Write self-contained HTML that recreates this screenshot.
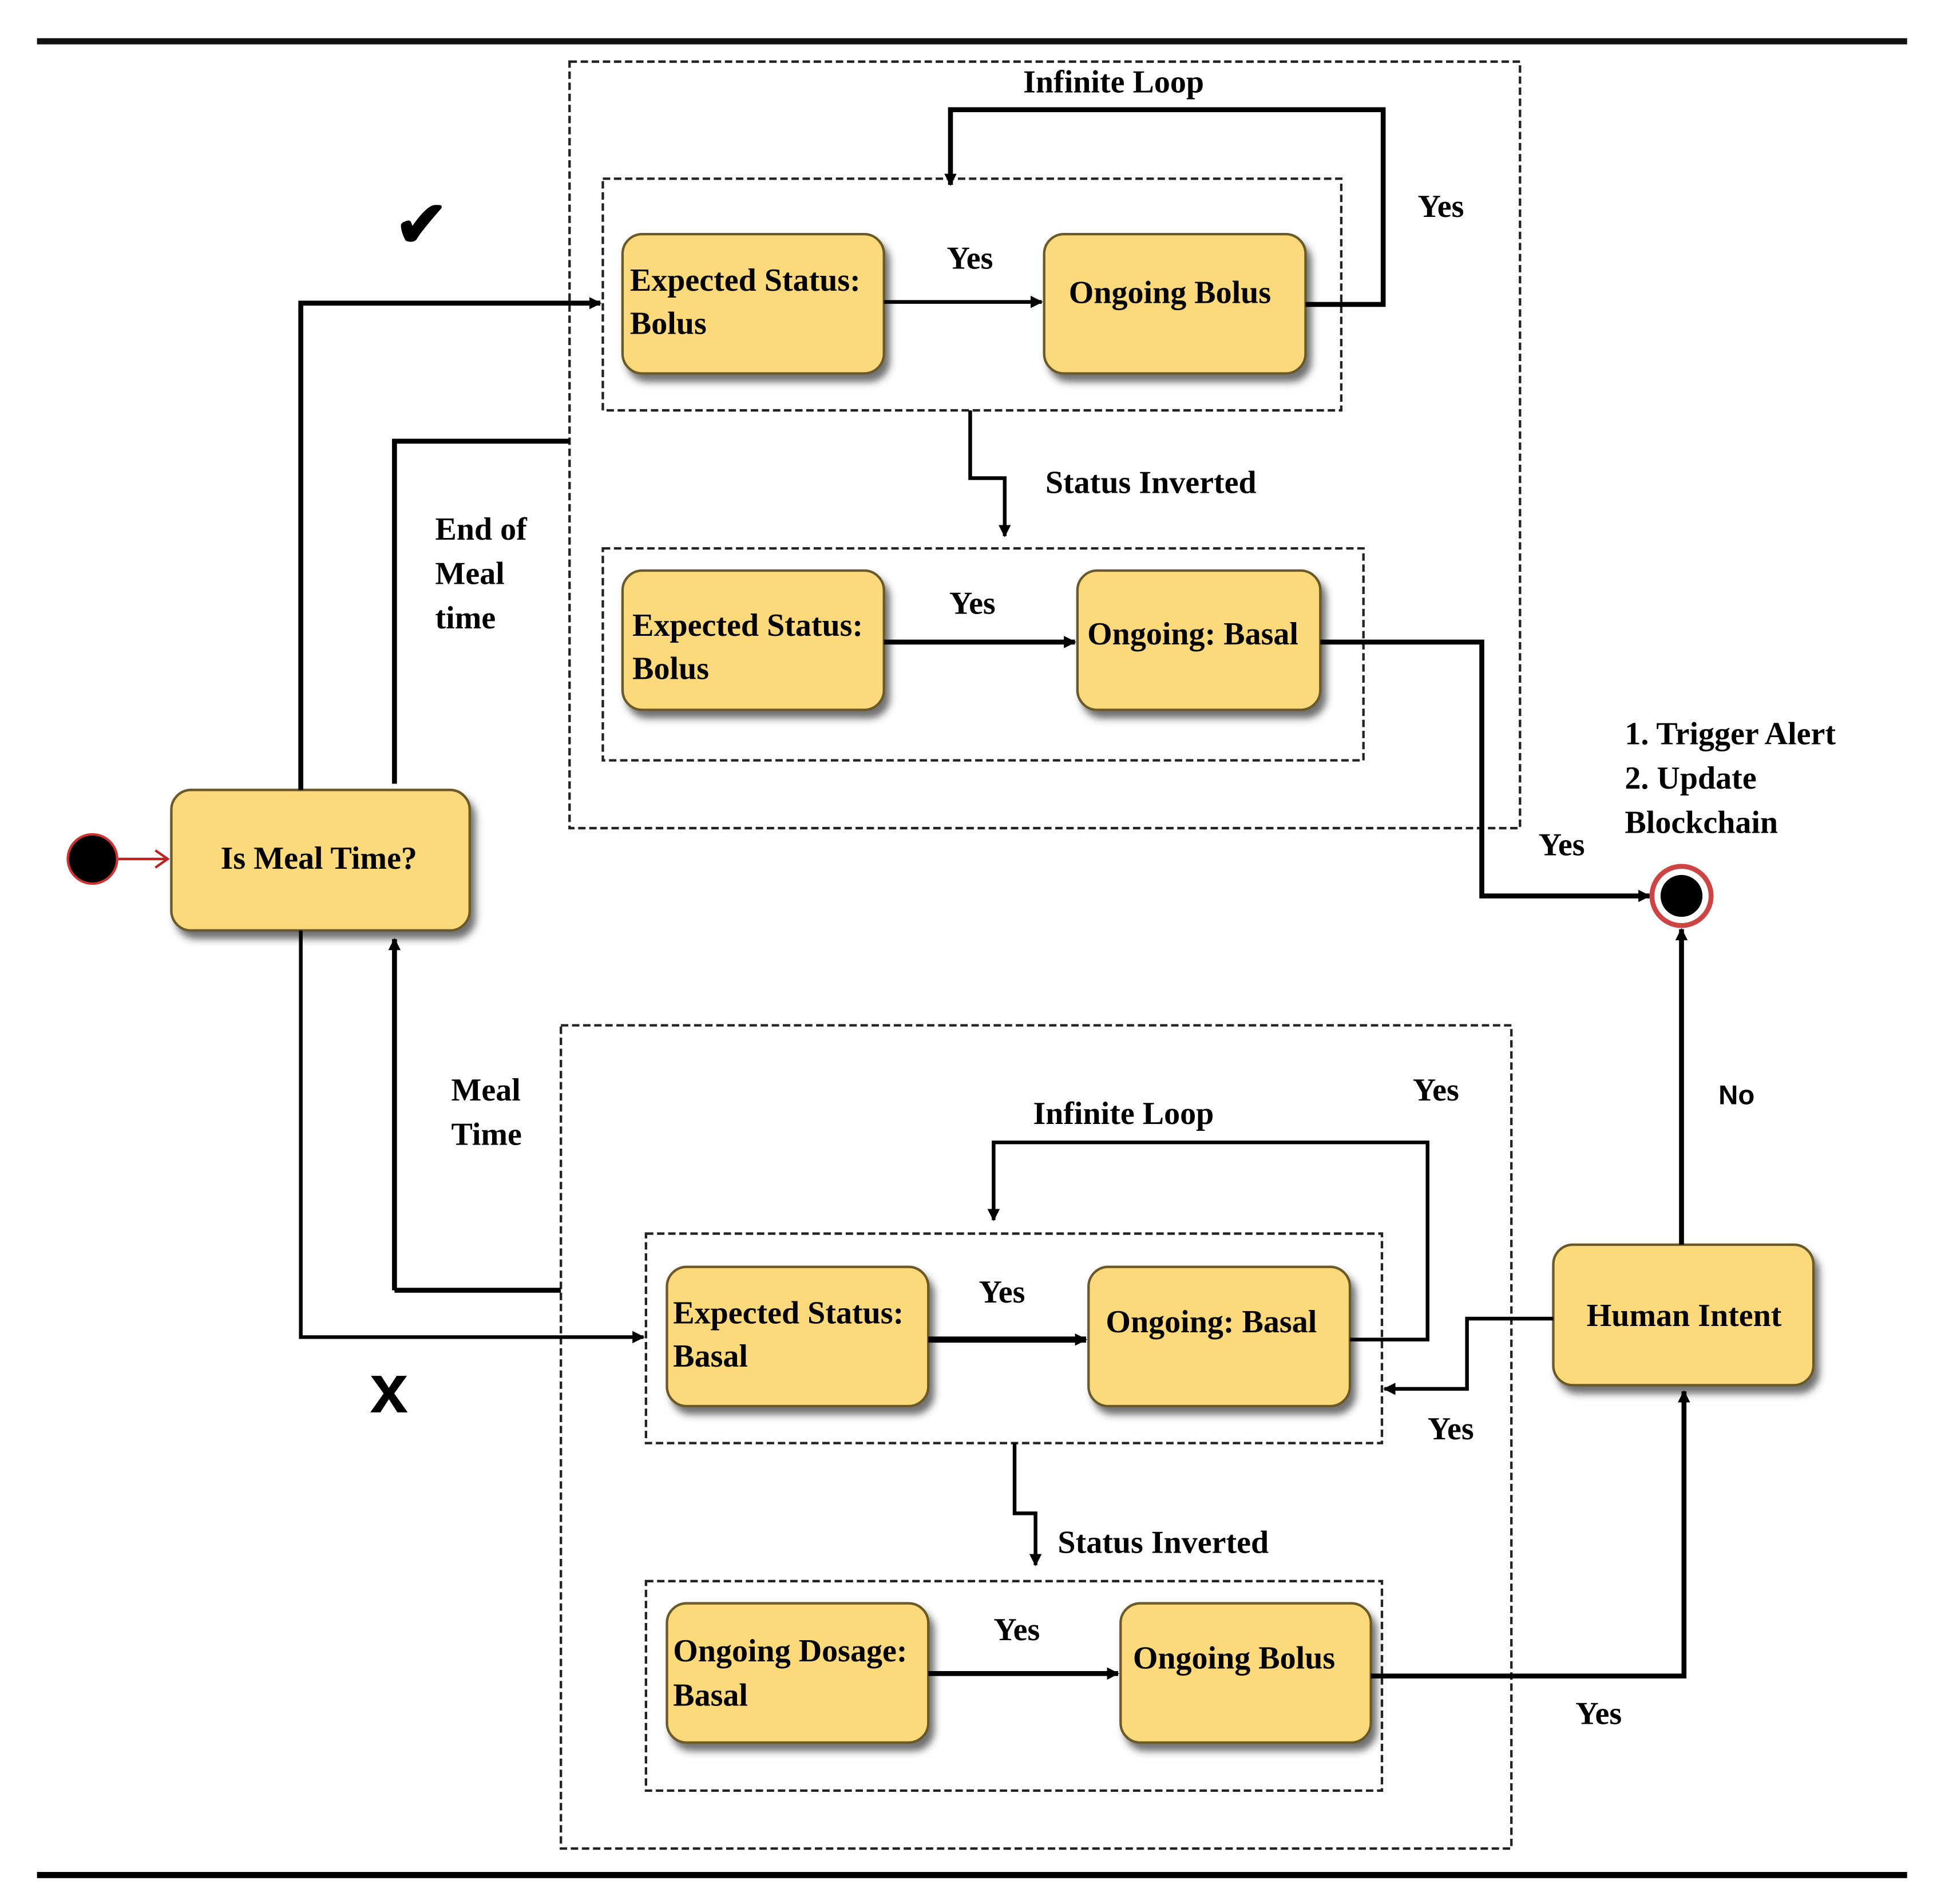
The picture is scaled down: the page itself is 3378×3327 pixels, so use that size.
<!DOCTYPE html>
<html><head><meta charset="utf-8"><style>
html,body{margin:0;padding:0;background:#fff}
svg{display:block}
text{font-family:"Liberation Serif",serif;font-weight:bold;fill:#000;font-size:26px}
</style></head><body>
<svg width="3378" height="3327" viewBox="0 0 1568 1545" preserveAspectRatio="none" xmlns="http://www.w3.org/2000/svg">
<defs>
<marker id="a" markerWidth="10" markerHeight="10" refX="9" refY="5" orient="auto" markerUnits="userSpaceOnUse"><path d="M0,0 L10,5 L0,10 z" fill="#000"/></marker>
<filter id="sh" x="-10%" y="-10%" width="130%" height="140%"><feDropShadow dx="4" dy="6" stdDeviation="3" flood-color="#333" flood-opacity="0.7"/></filter>
</defs>
<rect x="30" y="31" width="1517" height="5" fill="#111"/>
<rect x="30" y="1519" width="1517" height="5" fill="#000"/>
<g fill="none" stroke="#222" stroke-width="2" stroke-dasharray="6,3">
<rect x="462" y="50" width="771" height="622"/>
<rect x="489" y="145" width="599" height="188"/>
<rect x="489" y="445" width="617" height="172"/>
<rect x="455" y="832" width="771" height="668"/>
<rect x="524" y="1001" width="597" height="170"/>
<rect x="524" y="1283" width="597" height="170"/>
</g>
<g fill="#FCD97A" stroke="#6b5a2a" stroke-width="2" filter="url(#sh)">
<rect x="505" y="190" width="212" height="113" rx="16"/>
<rect x="847" y="190" width="212" height="113" rx="16"/>
<rect x="505" y="463" width="212" height="113" rx="16"/>
<rect x="874" y="463" width="197" height="113" rx="16"/>
<rect x="139" y="641" width="242" height="114" rx="16"/>
<rect x="1260" y="1010" width="211" height="114" rx="16"/>
<rect x="541" y="1028" width="212" height="113" rx="16"/>
<rect x="883" y="1028" width="212" height="113" rx="16"/>
<rect x="541" y="1301" width="212" height="113" rx="16"/>
<rect x="909" y="1301" width="203" height="113" rx="16"/>
</g>
<g fill="none" stroke="#000" stroke-width="4">
<polyline points="244,641 244,246 487,246" marker-end="url(#a)"/>
<polyline points="244,755 244,1085 522,1085" stroke-width="3" marker-end="url(#a)"/>
<polyline points="320,636 320,358 462,358"/>
<polyline points="320,1047 455,1047"/>
<polyline points="320,1047 320,762" marker-end="url(#a)"/>
<polyline points="1059,247 1122,247 1122,89 771,89 771,150" marker-end="url(#a)"/>
<polyline points="717,245 845,245" stroke-width="3" marker-end="url(#a)"/>
<polyline points="787,333 787,388 815,388 815,435" stroke-width="3" marker-end="url(#a)"/>
<polyline points="717,521 872,521" marker-end="url(#a)"/>
<polyline points="1071,521 1202,521 1202,727 1338,727" marker-end="url(#a)"/>
<polyline points="1364,1010 1364,754" marker-end="url(#a)"/>
<polyline points="1095,1087 1158,1087 1158,927 806,927 806,990" stroke-width="3" marker-end="url(#a)"/>
<polyline points="753,1087 881,1087" stroke-width="5" marker-end="url(#a)"/>
<polyline points="1260,1070 1190,1070 1190,1127 1123,1127" stroke-width="3" marker-end="url(#a)"/>
<polyline points="823,1171 823,1228 840,1228 840,1270" stroke-width="3" marker-end="url(#a)"/>
<polyline points="753,1358 907,1358" marker-end="url(#a)"/>
<polyline points="1112,1360 1366,1360 1366,1129" marker-end="url(#a)"/>
<polyline points="96,697 134,697" stroke="#b22" stroke-width="2"/>
<polyline points="126,690 136,697 126,704" stroke="#b22" stroke-width="2"/>
</g>
<circle cx="75" cy="697" r="20" fill="#000" stroke="#c33" stroke-width="2"/>
<circle cx="1364" cy="727" r="24" fill="#fff" stroke="#c44" stroke-width="4"/>
<circle cx="1364" cy="727" r="17" fill="#000"/>
<text x="830" y="75">Infinite Loop</text>
<text x="1150" y="176">Yes</text>
<text x="768" y="218">Yes</text>
<text x="511" y="236">Expected Status:</text>
<text x="511" y="271">Bolus</text>
<text x="867" y="246">Ongoing Bolus</text>
<text x="848" y="400">Status Inverted</text>
<text x="353" y="438">End of</text>
<text x="353" y="474">Meal</text>
<text x="353" y="510">time</text>
<text x="770" y="498">Yes</text>
<text x="513" y="516">Expected Status:</text>
<text x="513" y="551">Bolus</text>
<text x="882" y="523">Ongoing: Basal</text>
<text x="1318" y="604">1. Trigger Alert</text>
<text x="1318" y="640">2. Update</text>
<text x="1318" y="676">Blockchain</text>
<text x="1248" y="694">Yes</text>
<text x="179" y="705">Is Meal Time?</text>
<text x="366" y="893">Meal</text>
<text x="366" y="929">Time</text>
<text x="1146" y="893">Yes</text>
<text x="1394" y="896" style="font-family:'Liberation Sans',sans-serif;font-size:22px">No</text>
<text x="838" y="912">Infinite Loop</text>
<text x="794" y="1057">Yes</text>
<text x="546" y="1074">Expected Status:</text>
<text x="546" y="1109">Basal</text>
<text x="897" y="1081">Ongoing: Basal</text>
<text x="1287" y="1076">Human Intent</text>
<text x="1158" y="1168">Yes</text>
<text x="858" y="1260">Status Inverted</text>
<text x="806" y="1331">Yes</text>
<text x="546" y="1348">Ongoing Dosage:</text>
<text x="546" y="1384">Basal</text>
<text x="919" y="1354">Ongoing Bolus</text>
<text x="1278" y="1399">Yes</text>
<text x="320" y="200" style="font-size:52px">✔</text>
<text x="300" y="1146" style="font-family:'Liberation Sans',sans-serif;font-size:56px">x</text>
</svg>
</body></html>
